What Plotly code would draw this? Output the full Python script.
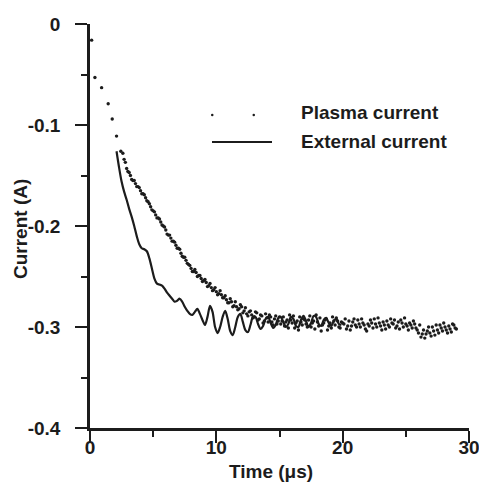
import plotly.graph_objects as go

# ---- data ----
ext_t = [2.1, 2.3, 2.5, 2.7, 2.9, 3.1, 3.3, 3.5, 3.7, 3.9, 4.1, 4.3, 4.5, 4.7, 4.9,
         5.1, 5.3, 5.5, 5.7, 5.9, 6.1, 6.3, 6.5, 6.7, 6.9, 7.1, 7.3, 7.5, 7.7, 7.9,
         8.1, 8.3, 8.5, 8.7, 8.9, 9.1, 9.3, 9.5, 9.7, 9.9, 10.1, 10.3, 10.5, 10.7, 10.9,
         11.1, 11.3, 11.5, 11.7, 11.9, 12.1, 12.3, 12.5, 12.7, 12.9, 13.1, 13.3, 13.5, 13.7, 13.9,
         14.1, 14.3, 14.5, 14.7, 14.9, 15.1, 15.3, 15.5, 15.7, 15.9, 16.1, 16.3, 16.5, 16.7, 16.9,
         17.1, 17.3, 17.5, 17.7, 17.9, 18.1, 18.3, 18.5, 18.7, 18.9, 19.1, 19.3, 19.5, 19.7, 19.9]
ext_i = [-0.126, -0.142, -0.156, -0.166, -0.174, -0.183, -0.191, -0.200, -0.210, -0.218,
         -0.222, -0.223, -0.225, -0.232, -0.242, -0.252, -0.257, -0.258, -0.259, -0.262,
         -0.266, -0.269, -0.272, -0.275, -0.274, -0.272, -0.275, -0.280, -0.284, -0.287,
         -0.288, -0.285, -0.282, -0.287, -0.293, -0.298, -0.290, -0.279, -0.285, -0.300,
         -0.306, -0.300, -0.290, -0.284, -0.292, -0.304, -0.308, -0.300, -0.290, -0.287,
         -0.295, -0.303, -0.305, -0.298, -0.290, -0.290, -0.297, -0.302, -0.299, -0.292,
         -0.290, -0.296, -0.301, -0.298, -0.291, -0.290, -0.295, -0.300, -0.297, -0.290,
         -0.292, -0.299, -0.300, -0.293, -0.289, -0.294, -0.300, -0.296, -0.289, -0.290,
         -0.297, -0.299, -0.293, -0.291, -0.296, -0.299, -0.294, -0.292, -0.297, -0.298]

pl_t = [0.13, 0.39, 0.92, 1.44, 1.76, 2.1, 2.44,
        2.6, 2.8, 3.0, 3.2, 3.4, 3.6, 3.8, 4.0, 4.2, 4.4, 4.6, 4.8, 5.0, 5.2, 5.4, 5.6, 5.8,
        6.0, 6.2, 6.4, 6.6, 6.8, 7.0, 7.2, 7.4, 7.6, 7.8, 8.0, 8.2, 8.4, 8.6, 8.8, 9.0,
        9.2, 9.4, 9.6, 9.8, 10.0, 10.2, 10.4, 10.6, 10.8, 11.0, 11.2, 11.4, 11.6, 11.8, 12.0,
        12.2, 12.4, 12.6, 12.8, 13.0, 13.2, 13.4, 13.6, 13.8, 14.0, 14.2, 14.4, 14.6, 14.8, 15.0,
        15.2, 15.4, 15.6, 15.8, 16.0, 16.2, 16.4, 16.6, 16.8, 17.0, 17.2, 17.4, 17.6, 17.8, 18.0,
        18.2, 18.4, 18.6, 18.8, 19.0, 19.2, 19.4, 19.6, 19.8, 20.0, 20.2, 20.4, 20.6, 20.8, 21.0,
        21.2, 21.4, 21.6, 21.8, 22.0, 22.2, 22.4, 22.6, 22.8, 23.0, 23.2, 23.4, 23.6, 23.8, 24.0,
        24.2, 24.4, 24.6, 24.8, 25.0, 25.2, 25.4, 25.6, 25.8, 26.0, 26.2, 26.4, 26.6, 26.8, 27.0,
        27.2, 27.4, 27.6, 27.8, 28.0, 28.2, 28.4, 28.6, 28.8, 29.0]
pl_i = [-0.016, -0.053, -0.063, -0.079, -0.094, -0.111, -0.126,
        -0.128, -0.137, -0.146, -0.150, -0.155, -0.158, -0.161, -0.165, -0.168, -0.172, -0.176,
        -0.181, -0.185, -0.189, -0.192, -0.196, -0.200,
        -0.204, -0.209, -0.212, -0.215, -0.219, -0.222, -0.227, -0.231, -0.234, -0.238, -0.242,
        -0.245, -0.246, -0.249, -0.252, -0.254,
        -0.256, -0.259, -0.261, -0.263, -0.265, -0.267, -0.268, -0.271, -0.273, -0.276, -0.275,
        -0.279, -0.280, -0.282, -0.280,
        -0.284, -0.287, -0.285, -0.288, -0.290, -0.286, -0.292, -0.289, -0.294, -0.291, -0.288,
        -0.295, -0.292, -0.297, -0.290,
        -0.294, -0.299, -0.293, -0.288, -0.296, -0.301, -0.294, -0.290, -0.298, -0.293, -0.300,
        -0.289, -0.296, -0.302, -0.295,
        -0.291, -0.298, -0.293, -0.303, -0.296, -0.290, -0.298, -0.294, -0.301, -0.296, -0.292,
        -0.299, -0.303, -0.295, -0.298,
        -0.293, -0.300, -0.296, -0.302, -0.297, -0.293, -0.301, -0.297, -0.291, -0.299, -0.295,
        -0.302, -0.298, -0.292, -0.297,
        -0.301, -0.295, -0.293, -0.300, -0.297, -0.303, -0.298, -0.294, -0.301, -0.306, -0.310,
        -0.303, -0.307, -0.300, -0.309,
        -0.304, -0.298, -0.306, -0.301, -0.296, -0.303, -0.299, -0.305, -0.298, -0.302]

# interleaved plasma samples (denser dotted band)
pl2_t = [2.7, 2.9, 3.1, 3.3, 3.5, 3.7, 3.9, 4.1, 4.3, 4.5,
         4.7, 4.9, 5.1, 5.3, 5.5, 5.7, 5.9, 6.1, 6.3, 6.5,
         6.7, 6.9, 7.1, 7.3, 7.5, 7.7, 7.9, 8.1, 8.3, 8.5,
         8.7, 8.9, 9.1, 9.3, 9.5, 9.7, 9.9, 10.1, 10.3, 10.5,
         10.7, 10.9, 11.1, 11.3, 11.5, 11.7, 11.9, 12.1, 12.3, 12.5,
         12.7, 12.9, 13.1, 13.3, 13.5, 13.7, 13.9, 14.1, 14.3, 14.5,
         14.7, 14.9, 15.1, 15.3, 15.5, 15.7, 15.9, 16.1, 16.3, 16.5,
         16.7, 16.9, 17.1, 17.3, 17.5, 17.7, 17.9, 18.1, 18.3, 18.5,
         18.7, 18.9, 19.1, 19.3, 19.5, 19.7, 19.9, 20.1, 20.3, 20.5,
         20.7, 20.9, 21.1, 21.3, 21.5, 21.7, 21.9, 22.1, 22.3, 22.5,
         22.7, 22.9, 23.1, 23.3, 23.5, 23.7, 23.9, 24.1, 24.3, 24.5,
         24.7, 24.9, 25.1, 25.3, 25.5, 25.7, 25.9, 26.1, 26.3, 26.5,
         26.7, 26.9, 27.1, 27.3, 27.5, 27.7, 27.9, 28.1, 28.3, 28.5,
         28.7, 28.9]
pl2_i = [-0.134, -0.143, -0.147, -0.154, -0.155, -0.161, -0.162, -0.168, -0.169, -0.175,
         -0.178, -0.184, -0.186, -0.192, -0.193, -0.199, -0.201, -0.208, -0.209, -0.215,
         -0.216, -0.222, -0.223, -0.230, -0.231, -0.237, -0.239, -0.245, -0.243, -0.250,
         -0.249, -0.255, -0.253, -0.260, -0.257, -0.264, -0.261, -0.268, -0.264, -0.271,
         -0.269, -0.276, -0.272, -0.280, -0.275, -0.283, -0.278, -0.286, -0.281, -0.289,
         -0.284, -0.291, -0.285, -0.293, -0.288, -0.296, -0.287, -0.295, -0.290, -0.298,
         -0.289, -0.294, -0.297, -0.290, -0.295, -0.301, -0.293, -0.289, -0.296, -0.303,
         -0.295, -0.292, -0.297, -0.293, -0.300, -0.294, -0.288, -0.299, -0.304, -0.296,
         -0.292, -0.299, -0.301, -0.294, -0.291, -0.300, -0.295, -0.297, -0.302, -0.294,
         -0.299, -0.292, -0.300, -0.297, -0.292, -0.298, -0.304, -0.299, -0.296, -0.292,
         -0.300, -0.296, -0.303, -0.298, -0.294, -0.300, -0.296, -0.293, -0.299, -0.302,
         -0.296, -0.291, -0.299, -0.296, -0.301, -0.297, -0.303, -0.298, -0.307, -0.311,
         -0.304, -0.306, -0.300, -0.308, -0.303, -0.298, -0.304, -0.300, -0.306, -0.302,
         -0.297, -0.301]

x_ticks = [0, 10, 20, 30]
x_tick_text = ["0", "10", "20", "30"]
y_ticks = [0, -0.1, -0.2, -0.3, -0.4]
y_tick_text = ["0", "-0.1", "-0.2", "-0.3", "-0.4"]

INK = "#1c1c1c"
FONT = "Liberation Sans, Arial, sans-serif"
FS = 19

fig = go.Figure()
fig.add_trace(go.Scatter(x=ext_t, y=ext_i, mode="lines", name="External current",
                         line=dict(color=INK, width=2.2, shape="spline", smoothing=0.8),
                         cliponaxis=False, showlegend=False))
fig.add_trace(go.Scatter(x=pl_t + pl2_t, y=pl_i + pl2_i, mode="markers", name="Plasma current",
                         marker=dict(color=INK, size=3.4, line=dict(width=0)),
                         cliponaxis=False, showlegend=False))

W, H = 479, 493
L, R, T, B = 90, 10, 24, 65
pw, ph = W - L - R, H - T - B


def px(xp):
    return (xp - L) / pw


def py(yp):
    return (H - B - yp) / ph


# manual legend (long sample line as in reference)
shapes = [
    dict(type="line", xref="paper", yref="paper", x0=px(212), x1=px(272), y0=py(142), y1=py(142),
         line=dict(color=INK, width=2)),
    dict(type="circle", xref="paper", yref="paper", x0=px(211), x1=px(213.5), y0=py(113.8), y1=py(116.3),
         fillcolor=INK, line=dict(width=0)),
    dict(type="circle", xref="paper", yref="paper", x0=px(252.5), x1=px(255), y0=py(113.8), y1=py(116.3),
         fillcolor=INK, line=dict(width=0)),
]

bold = dict(family=FONT, size=FS, color=INK, weight="bold")
annotations = [
    dict(text="Plasma current", xref="paper", yref="paper", x=px(299), y=py(113),
         xanchor="left", yanchor="middle", showarrow=False, font=bold),
    dict(text="External current", xref="paper", yref="paper", x=px(299), y=py(141),
         xanchor="left", yanchor="middle", showarrow=False, font=bold),
    dict(text="Current (A)", xref="paper", yref="paper", x=px(20), y=py(229), textangle=-90,
         xanchor="center", yanchor="middle", showarrow=False, font=bold),
    dict(text="Time (\u03bcs)", xref="paper", yref="paper", x=px(271), y=py(471),
         xanchor="center", yanchor="middle", showarrow=False, font=bold),
]

axis_common = dict(showgrid=False, zeroline=False, showline=True, linecolor=INK, linewidth=2.5,
                   ticks="outside", ticklen=12, tickwidth=2, tickcolor=INK,
                   tickfont=bold, fixedrange=True, automargin=False,
                   ticklabeloverflow="allow")

fig.update_xaxes(range=[0, 30], tickvals=x_ticks, ticktext=x_tick_text,
                 minor=dict(tickvals=[5, 15, 25], ticks="outside", ticklen=6, tickwidth=2, tickcolor=INK),
                 ticklabelstandoff=-12, **axis_common)
fig.update_yaxes(range=[-0.4, 0], tickvals=y_ticks, ticktext=y_tick_text,
                 minor=dict(tickvals=[-0.05, -0.15, -0.25, -0.35], ticks="outside", ticklen=6,
                            tickwidth=2, tickcolor=INK),
                 ticklabelstandoff=11, **axis_common)

fig.update_layout(width=W, height=H, margin=dict(l=L, r=R, t=T, b=B),
                  paper_bgcolor="white", plot_bgcolor="white",
                  showlegend=False, shapes=shapes, annotations=annotations)

fig.write_html("out.html", config={"displayModeBar": False},
               post_script="document.body.style.margin='0';document.body.style.overflow='hidden';")
